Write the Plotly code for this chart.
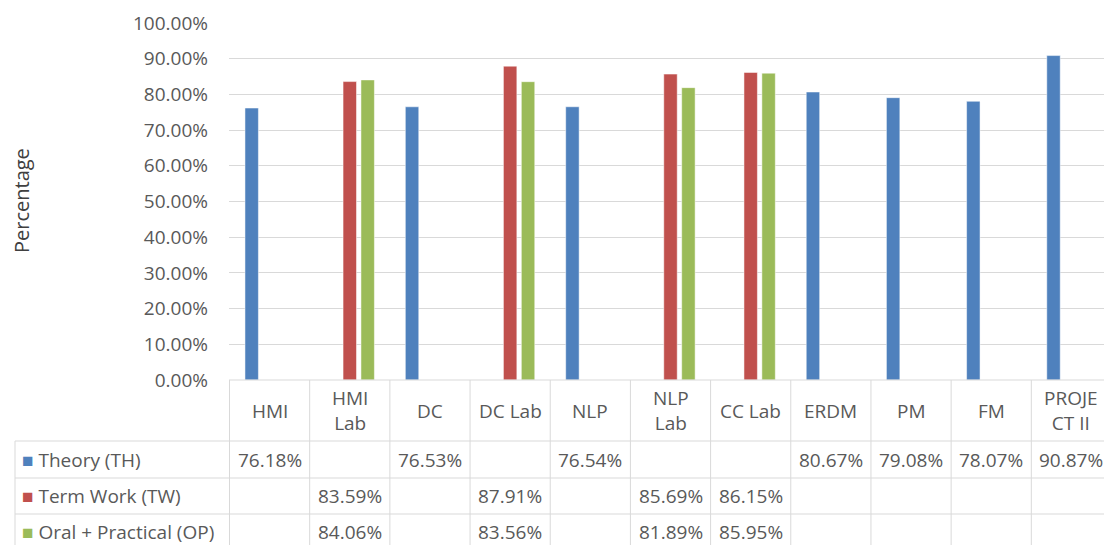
import plotly.graph_objects as go

# subjects (x categories) and their table header labels
subjects = ['HMI', 'HMI Lab', 'DC', 'DC Lab', 'NLP', 'NLP Lab', 'CC Lab',
            'ERDM', 'PM', 'FM', 'PROJECT II']
header_labels = ['HMI', 'HMI<br>Lab', 'DC', 'DC Lab', 'NLP', 'NLP<br>Lab', 'CC Lab',
                 'ERDM', 'PM', 'FM', 'PROJE<br>CT II']

# series values (fraction), None = no entry
theory = [0.7618, None, 0.7653, None, 0.7654, None, None, 0.8067, 0.7908, 0.7807, 0.9087]
term_work = [None, 0.8359, None, 0.8791, None, 0.8569, 0.8615, None, None, None, None]
oral_practical = [None, 0.8406, None, 0.8356, None, 0.8189, 0.8595, None, None, None, None]

series_names = ['Theory (TH)', 'Term Work (TW)', 'Oral + Practical (OP)']
series_colors = ['#4F81BD', '#C0504D', '#9BBB59']
series_values = [theory, term_work, oral_practical]

# the page body has a default 8px margin, so work in page pixels and shift
OFF = 8
W, H = 1112 - OFF, 545 - OFF
LEFT, TOP, BOTTOM = 229, 23, 380   # page pixels of plot area
plot_h = BOTTOM - TOP
plot_w = 1112 - LEFT
FONT = 'Open Sans'
TXT = '#595959'
GRID = '#D9D9D9'
FS = 19


def py(px):
    """page pixel row -> paper y"""
    return (BOTTOM - px) / plot_h


def pxx(px):
    """page pixel column -> paper x"""
    return (px - LEFT) / plot_w


fig = go.Figure()
for name, color, vals in zip(series_names, series_colors, series_values):
    fig.add_trace(go.Bar(x=subjects, y=vals, name=name, marker_color=color,
                         marker_line=dict(color='white', width=0.5)))

shapes = []
annotations = []

# table row lines
for r in [441, 478, 514]:
    shapes.append(dict(type='line', xref='paper', yref='paper',
                       x0=pxx(15), x1=1, y0=py(r), y1=py(r),
                       line=dict(color=GRID, width=1)))
# header top line (axis)
shapes.append(dict(type='line', xref='paper', yref='paper', x0=0, x1=1,
                   y0=0, y1=0, line=dict(color=GRID, width=1)))
# column lines
for i in range(len(subjects) + 1):
    shapes.append(dict(type='line', xref='x', yref='paper', x0=i - 0.5, x1=i - 0.5,
                       y0=0, y1=py(560), line=dict(color=GRID, width=1)))
shapes.append(dict(type='line', xref='paper', yref='paper', x0=pxx(15), x1=pxx(15),
                   y0=py(441), y1=py(560), line=dict(color=GRID, width=1)))

# header labels
for subj, lab in zip(subjects, header_labels):
    annotations.append(dict(x=subj, y=py(411), xref='x', yref='paper', text=lab,
                            xanchor='center', yanchor='middle', showarrow=False,
                            font=dict(family=FONT, size=FS, color=TXT)))

# legend column + values
row_centers = [460, 496, 532]
for name, color, vals, yc in zip(series_names, series_colors, series_values, row_centers):
    annotations.append(dict(x=pxx(20), y=py(yc), xref='paper', yref='paper',
                            xanchor='left', yanchor='middle', showarrow=False,
                            text=f'<span style="color:{color};font-size:19px">■</span> {name}',
                            font=dict(family=FONT, size=FS, color=TXT)))
    for subj, v in zip(subjects, vals):
        if v is None:
            continue
        annotations.append(dict(x=subj, y=py(yc), xref='x', yref='paper',
                                xanchor='center', yanchor='middle',
                                text=f'{v * 100:.2f}%', showarrow=False,
                                font=dict(family=FONT, size=FS, color=TXT)))

# y axis title
annotations.append(dict(x=pxx(21), y=py(201), xref='paper', yref='paper',
                        xanchor='center', yanchor='middle',
                        text='Percentage', textangle=-90, showarrow=False,
                        font=dict(family=FONT, size=20, color='#404040')))

fig.update_layout(
    width=W, height=H,
    margin=dict(l=LEFT - OFF, r=0, t=TOP - OFF, b=545 - BOTTOM, pad=0),
    plot_bgcolor='white', paper_bgcolor='white',
    showlegend=False,
    barmode='group', bargap=0.33, bargroupgap=0.25,
    shapes=shapes, annotations=annotations,
    font=dict(family=FONT, color=TXT),
)
fig.update_xaxes(showticklabels=False, showgrid=False, zeroline=False, showline=False,
                 automargin=False)
fig.update_yaxes(range=[0, 1], dtick=0.1, tickformat='.2%', showgrid=True,
                 gridcolor=GRID, gridwidth=1, zeroline=False, showline=False,
                 ticks='', ticklabelstandoff=20, automargin=False,
                 tickfont=dict(family=FONT, size=19, color=TXT))

fig.write_html('out.html')
